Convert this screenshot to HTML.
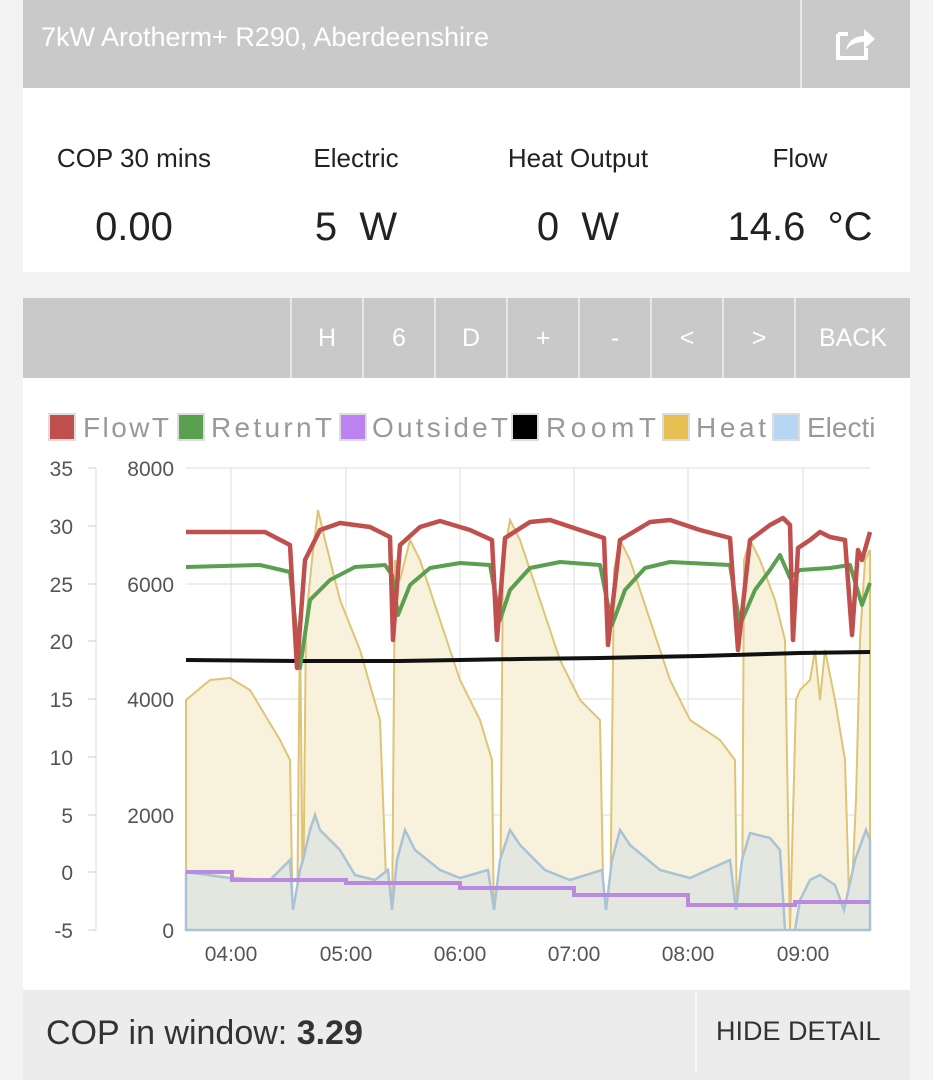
<!DOCTYPE html><html><head><style>
body{margin:0;width:933px;height:1080px;background:#f3f3f3;font-family:"Liberation Sans",sans-serif;position:relative;overflow:hidden;color:#222}
.a{position:absolute}
</style></head><body>
<div class="a" style="left:23px;top:0;width:887px;height:88px;background:#c9c9c9"></div>
<div class="a" style="left:41px;top:22px;font-size:27px;color:#fff">7kW Arotherm+ R290, Aberdeenshire</div>
<div class="a" style="left:800px;top:0;width:2px;height:88px;background:#e8e8e8"></div>
<svg class="a" style="left:834px;top:24px" width="44" height="38"><path d="M4 10h10M4 10v24h28v-10" stroke="#fff" stroke-width="4" fill="none"/><path d="M12 26c2-10 10-14 18-14v-7l11 10-11 10v-7c-8 0-14 3-18 8z" fill="#fff"/></svg>
<div class="a" style="left:23px;top:88px;width:887px;height:184px;background:#fff"></div>
<div class="a" style="left:23px;top:143px;width:222px;text-align:center;font-size:26px">COP 30 mins</div>
<div class="a" style="left:245px;top:143px;width:222px;text-align:center;font-size:26px">Electric</div>
<div class="a" style="left:467px;top:143px;width:222px;text-align:center;font-size:26px">Heat Output</div>
<div class="a" style="left:689px;top:143px;width:222px;text-align:center;font-size:26px">Flow</div>
<div class="a" style="left:23px;top:205px;width:222px;text-align:center;font-size:40px">0.00</div>
<div class="a" style="left:245px;top:205px;width:222px;text-align:center;font-size:40px">5&nbsp; W</div>
<div class="a" style="left:467px;top:205px;width:222px;text-align:center;font-size:40px">0&nbsp; W</div>
<div class="a" style="left:689px;top:205px;width:222px;text-align:center;font-size:40px">14.6&nbsp; °C</div>
<div class="a" style="left:23px;top:298px;width:887px;height:80px;background:#c9c9c9"></div>
<div class="a" style="top:298px;left:0;width:933px;height:80px;font-size:25px;color:#fff">
<div class="a" style="left:290px;width:2px;height:80px;background:#e6e6e6"></div>
<div class="a" style="left:362px;width:2px;height:80px;background:#e6e6e6"></div>
<div class="a" style="left:434px;width:2px;height:80px;background:#e6e6e6"></div>
<div class="a" style="left:506px;width:2px;height:80px;background:#e6e6e6"></div>
<div class="a" style="left:578px;width:2px;height:80px;background:#e6e6e6"></div>
<div class="a" style="left:650px;width:2px;height:80px;background:#e6e6e6"></div>
<div class="a" style="left:722px;width:2px;height:80px;background:#e6e6e6"></div>
<div class="a" style="left:794px;width:2px;height:80px;background:#e6e6e6"></div>
<div class="a" style="left:292px;width:70px;top:26px;text-align:center">H</div>
<div class="a" style="left:364px;width:70px;top:26px;text-align:center">6</div>
<div class="a" style="left:436px;width:70px;top:26px;text-align:center">D</div>
<div class="a" style="left:508px;width:70px;top:26px;text-align:center">+</div>
<div class="a" style="left:580px;width:70px;top:26px;text-align:center">-</div>
<div class="a" style="left:652px;width:70px;top:26px;text-align:center">&lt;</div>
<div class="a" style="left:724px;width:70px;top:26px;text-align:center">&gt;</div>
<div class="a" style="left:796px;width:114px;top:26px;text-align:center">BACK</div>
</div>
<div class="a" style="left:23px;top:378px;width:887px;height:612px;background:#fff"></div>
<svg class="a" style="left:0;top:0" width="933" height="1080" font-family="Liberation Sans,sans-serif">
<g fill="#999" font-size="28">
<rect x="49" y="414" width="26" height="26" fill="#c0504d" stroke="#ddd" stroke-width="2"/><text x="83" y="437" textLength="86">FlowT</text>
<rect x="178" y="414" width="26" height="26" fill="#5aa050" stroke="#ddd" stroke-width="2"/><text x="211" y="437" textLength="121">ReturnT</text>
<rect x="340" y="414" width="26" height="26" fill="#bb82f2" stroke="#ddd" stroke-width="2"/><text x="372" y="437" textLength="136">OutsideT</text>
<rect x="512" y="414" width="26" height="26" fill="#000" stroke="#ddd" stroke-width="2"/><text x="546" y="437" textLength="110">RoomT</text>
<rect x="663" y="414" width="26" height="26" fill="#e6c050" stroke="#ddd" stroke-width="2"/><text x="696" y="437" textLength="70">Heat</text>
<rect x="773" y="414" width="26" height="26" fill="#b6d6f2" stroke="#ddd" stroke-width="2"/><text x="807" y="437">Electi</text>
</g>
<rect x="888" y="405" width="22" height="45" fill="#fff"/>
<g stroke="#e8e8e8" stroke-width="1.5">
<line x1="186" y1="468" x2="870" y2="468"/><line x1="186" y1="584" x2="870" y2="584"/><line x1="186" y1="699" x2="870" y2="699"/><line x1="186" y1="815" x2="870" y2="815"/>
<line x1="231" y1="468" x2="231" y2="930"/><line x1="346" y1="468" x2="346" y2="930"/><line x1="460" y1="468" x2="460" y2="930"/><line x1="574" y1="468" x2="574" y2="930"/><line x1="688" y1="468" x2="688" y2="930"/><line x1="803" y1="468" x2="803" y2="930"/>
<line x1="96" y1="468" x2="96" y2="930"/>
</g>
<g stroke="#ccc"><line x1="88" y1="468" x2="96" y2="468"/><line x1="88" y1="526" x2="96" y2="526"/><line x1="88" y1="584" x2="96" y2="584"/><line x1="88" y1="641" x2="96" y2="641"/><line x1="88" y1="699" x2="96" y2="699"/><line x1="88" y1="757" x2="96" y2="757"/><line x1="88" y1="815" x2="96" y2="815"/><line x1="88" y1="872" x2="96" y2="872"/><line x1="88" y1="930" x2="96" y2="930"/></g>
<g font-size="21" fill="#555" text-anchor="end">
<text x="73" y="476">35</text><text x="73" y="534">30</text><text x="73" y="592">25</text><text x="73" y="649">20</text><text x="73" y="707">15</text><text x="73" y="765">10</text><text x="73" y="823">5</text><text x="73" y="880">0</text><text x="73" y="938">-5</text>
<text x="174" y="476">8000</text><text x="174" y="592">6000</text><text x="174" y="707">4000</text><text x="174" y="823">2000</text><text x="174" y="938">0</text>
</g>
<g font-size="21" fill="#555" text-anchor="middle">
<text x="231" y="961">04:00</text><text x="346" y="961">05:00</text><text x="460" y="961">06:00</text><text x="574" y="961">07:00</text><text x="688" y="961">08:00</text><text x="803" y="961">09:00</text>
</g>
<path d="M186 930L186 700 210 680 230 678 250 690 280 740 290 760 293 930 297 930 300 620 303 930 306 620 312 560 318 510 325 540 340 600 360 650 380 720 388 930 392 930 395 560 400 580 410 540 420 560 440 620 460 680 480 720 492 760 494 930 500 930 503 560 510 520 520 540 540 600 560 660 580 700 600 720 604 930 610 930 614 570 620 540 630 560 650 620 670 680 690 720 720 740 735 760 737 930 742 930 744 560 750 540 760 560 775 600 785 640 790 930 796 700 800 690 810 680 815 650 820 700 825 650 835 700 845 760 850 930 856 800 860 640 865 560 870 550 870 930Z" fill="#f8f1db" stroke="#dfc475" stroke-width="2"/>
<path d="M186 930L186 872 230 878 270 880 290 860 293 910 300 870 303 860 310 830 315 815 320 830 340 850 355 875 375 880 388 870 392 910 397 860 405 830 415 850 440 870 460 878 488 870 494 910 500 860 510 830 520 845 545 870 570 880 602 870 606 910 612 860 620 830 630 845 660 870 690 878 730 860 736 910 742 860 750 833 770 838 780 850 785 930 795 930 800 900 810 880 820 875 835 885 844 910 855 860 866 830 870 840 870 930Z" fill="#e3e7e0" stroke="#a9c3d6" stroke-width="2.5"/>
<path d="M186 872H232V880H346V883H460V888H574V895H688V905H795V902H870" fill="none" stroke="#b88ae0" stroke-width="4"/>
<path d="M186 660L300 661 400 661 460 660 520 659 600 658 700 656 800 653 870 652" fill="none" stroke="#111" stroke-width="4"/>
<path d="M186 567L260 565 290 572 300 668 310 600 330 580 355 567 385 565 392 575 398 615 410 585 430 568 460 563 490 565 500 620 510 590 530 568 560 562 600 565 612 625 625 590 645 568 670 562 730 565 740 625 755 590 770 570 780 555 790 578 800 570 830 568 850 565 862 605 870 583" fill="none" stroke="#5aa050" stroke-width="4" stroke-linejoin="round"/>
<path d="M186 532L265 532 290 545 297 668 305 560 320 530 340 523 370 527 390 537 393 640 400 545 420 527 440 521 470 530 492 540 497 640 505 538 530 522 550 520 580 530 604 538 608 645 620 540 650 522 670 520 700 530 730 538 738 650 750 540 770 525 783 518 790 525 793 640 798 548 810 540 820 532 830 537 845 540 852 635 858 550 862 560 870 532" fill="none" stroke="#c0504d" stroke-width="4.5" stroke-linejoin="round"/>
</svg>
<div class="a" style="left:23px;top:990px;width:887px;height:90px;background:#ececec"></div>
<div class="a" style="left:695px;top:992px;width:2px;height:80px;background:#f8f8f8"></div>
<div class="a" style="left:46px;top:1014px;font-size:34px;color:#333">COP in window: <b>3.29</b></div>
<div class="a" style="left:716px;top:1016px;font-size:27px;color:#333">HIDE DETAIL</div>
</body></html>
